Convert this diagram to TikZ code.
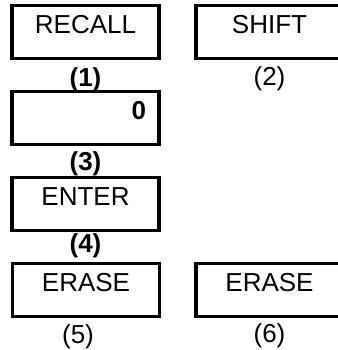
\documentclass[tikz,border=0pt]{standalone}
\usepackage{fontspec}
\setmainfont{Liberation Sans}
\usetikzlibrary{positioning}
\begin{document}
\begin{tikzpicture}[x=1pt,y=-1pt,
  key/.style={draw,line width=3.2pt,inner xsep=13pt,inner ysep=9pt,text width=121pt,align=center,
    text height=19pt,text depth=16pt,font=\fontsize{26}{30}\selectfont},
  num/.style={inner sep=0pt,font=\fontsize{26}{30}\selectfont}]
  \useasboundingbox (0,0) rectangle (337,350);
  \node[key] (recall) at (85.5,32) {RECALL};
  \node[key] (shift) at (269.5,32) {SHIFT};
  \node[key,align=right] (display) at (85.5,118) {\bfseries 0};
  \node[key] (enter) at (85.5,204) {ENTER};
  \node[key] (erasea) at (86,290) {ERASE};
  \node[key] (eraseb) at (269.5,290) {ERASE};
  \node[num,below=7pt of recall] (na) {\bfseries(1)};
  \node[num,below=6pt of shift] (nb) {(2)};
  \node[num,below=5pt of display] (nc) {\bfseries(3)};
  \node[num,below=1.5pt of enter] (nd) {\bfseries(4)};
  \node[num,below=6pt of erasea,xshift=-8pt] (ne) {(5)};
  \node[num,below=5pt of eraseb] (nf) {(6)};
\end{tikzpicture}
\end{document}
